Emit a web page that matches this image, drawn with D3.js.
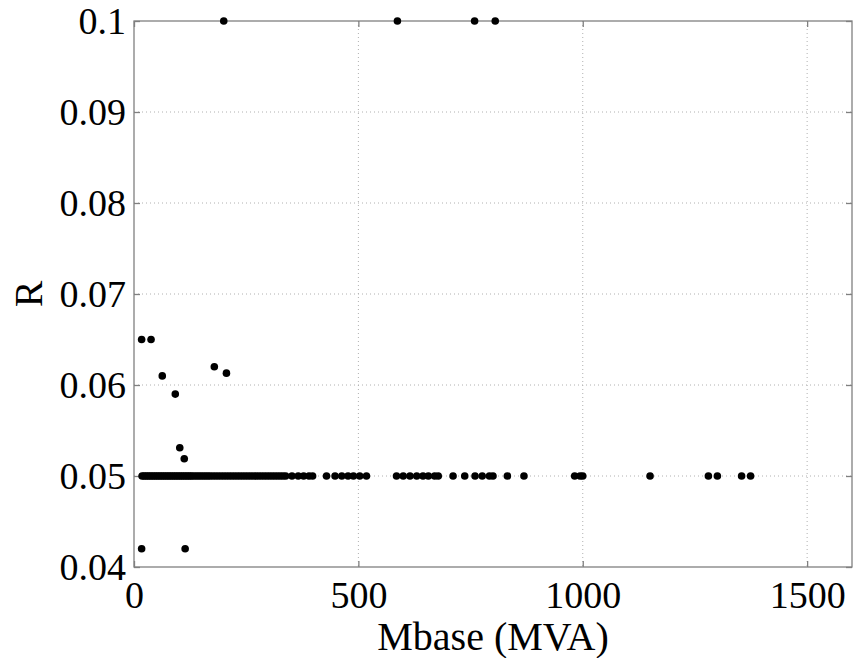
<!DOCTYPE html>
<html><head><meta charset="utf-8">
<script src="https://cdn.jsdelivr.net/npm/d3@7"></script>
<style>body{margin:0;background:#fff}</style>
</head><body>
<svg id="chart" width="853" height="658"></svg>
<script>
// Data: Mbase (MVA) vs R
const mbase050 = [18,22,26,30,34,38,42,46,50,54,58,62,66,70,74,78,82,86,90,94,98,102,106,110,114,118,122,126,130,135,140,145,150,155,160,165,170,176,182,188,194,200,206,212,218,224,230,236,242,248,254,260,266,272,278,284,290,296,302,308,314,320,326,332,338,352,366,378,390,398,429,448,463,477,489,503,518,585,600,615,630,644,656,670,678,711,737,760,776,792,800,832,869,982,994,1000,1150,1280,1300,1354,1374];
const otherX = [17,38,63,92,102,112,179,206,17,114,200,587,759,805];
const otherR = [0.065,0.065,0.061,0.059,0.0531,0.0519,0.0620,0.0613,0.042,0.042,0.1,0.1,0.1,0.1];
const xTicks = [0,500,1000,1500];
const yTicks = [0.04,0.05,0.06,0.07,0.08,0.09,0.1];
const yTickLabels = ["0.04","0.05","0.06","0.07","0.08","0.09","0.1"];
const xTitle = "Mbase (MVA)";
const yTitle = "R";

const points = mbase050.map(v => ({x: v, r: 0.05}))
  .concat(otherX.map((v, i) => ({x: v, r: otherR[i]})));

const svg = d3.select("#chart");
const L = 134, R = 852, T = 21, B = 567;
const x = d3.scaleLinear().domain([0,1600]).range([L,R]);
const y = d3.scaleLinear().domain([0.04,0.1]).range([B,T]);
const font = "'Liberation Serif','Times New Roman',serif";
const axisColor = "#808080";

// gridlines
const g = svg.append("g");
g.selectAll(".gx").data(xTicks.filter(d => d > 0)).join("line")
  .attr("x1", d => x(d)).attr("x2", d => x(d)).attr("y1", T).attr("y2", B)
  .attr("stroke", "#b0b0b0").attr("stroke-width", 1).attr("stroke-dasharray", "1,3");
g.selectAll(".gy").data(yTicks.filter(d => d > 0.04 && d < 0.1)).join("line")
  .attr("y1", d => y(d)).attr("y2", d => y(d)).attr("x1", L).attr("x2", R)
  .attr("stroke", "#b0b0b0").attr("stroke-width", 1).attr("stroke-dasharray", "1,3");

// box
svg.append("rect").attr("x", L).attr("y", T).attr("width", R - L).attr("height", B - T)
  .attr("fill", "none").attr("stroke", axisColor).attr("stroke-width", 1.3);

// axes with inward ticks
const xb = d3.axisBottom(x).tickValues(xTicks).tickSize(-6).tickFormat(d3.format("d")).tickPadding(14);
const xAxis = svg.append("g").attr("transform", `translate(0,${B})`).call(xb);
const xt = d3.axisTop(x).tickValues(xTicks).tickSize(-6).tickFormat("");
svg.append("g").attr("transform", `translate(0,${T})`).call(xt);
const yl = d3.axisLeft(y).tickValues(yTicks).tickSize(-6).tickFormat((d, i) => yTickLabels[i]).tickPadding(14);
const yAxis = svg.append("g").attr("transform", `translate(${L},0)`).call(yl);
const yr = d3.axisRight(y).tickValues(yTicks).tickSize(-6).tickFormat("");
svg.append("g").attr("transform", `translate(${R},0)`).call(yr);

svg.selectAll(".domain").remove();
svg.selectAll(".tick line").attr("stroke", axisColor).attr("stroke-width", 1.3);
svg.selectAll(".tick text").attr("font-family", font).attr("font-size", 38).attr("fill", "#000");
xAxis.selectAll(".tick text").attr("dy", null).attr("y", 41);
yAxis.selectAll(".tick text").attr("x", -8).attr("dy", "0.34em");

// points
svg.append("g").selectAll("circle").data(points).join("circle")
  .attr("cx", d => x(d.x)).attr("cy", d => y(d.r)).attr("r", 3.8).attr("fill", "#000");

// titles
svg.append("text").attr("x", (L + R) / 2).attr("y", 650).attr("text-anchor", "middle")
  .attr("font-family", font).attr("font-size", 40).text(xTitle);
svg.append("text").attr("transform", `translate(42,${(T + B) / 2}) rotate(-90)`).attr("text-anchor", "middle")
  .attr("font-family", font).attr("font-size", 40).text(yTitle);
</script>
</body></html>
